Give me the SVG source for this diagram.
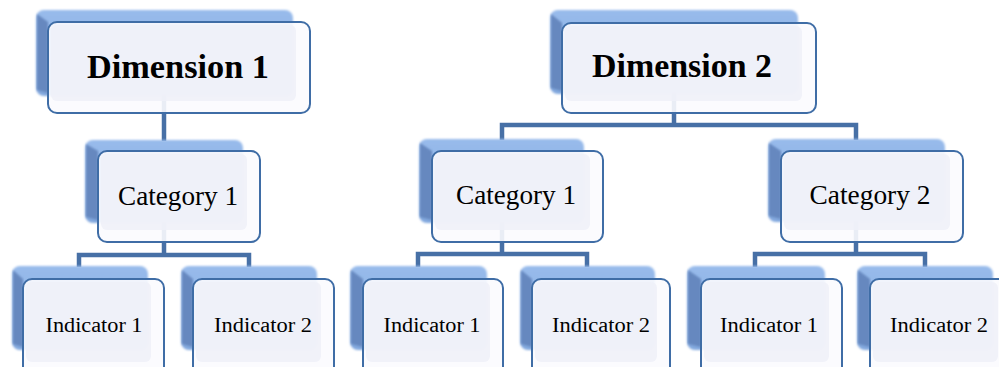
<svg xmlns="http://www.w3.org/2000/svg" width="999" height="367" viewBox="0 0 999 367">
<style>
.bg{fill:#ffffff}
.conn{fill:none;stroke:#4770A6;stroke-width:4.5;stroke-linejoin:miter}
.back{fill:url(#gBack);filter:url(#soft)}
.bevel{fill:#6688BF;filter:url(#soft)}
.front{fill:#FBFBFE;fill-opacity:0.9;stroke:#3F6DA6;stroke-width:2}
.inner{fill:#EEF0F8;fill-opacity:0.85}
.tdim{font-family:"Liberation Serif","DejaVu Serif",serif;font-weight:bold;font-size:33px;text-anchor:middle;fill:#000}
.tcat{font-family:"Liberation Serif","DejaVu Serif",serif;font-size:28px;text-anchor:middle;fill:#000}
.tind{font-family:"Liberation Serif","DejaVu Serif",serif;font-size:20px;text-anchor:middle;fill:#000}
</style>
<defs>
<linearGradient id="gBack" x1="0" y1="0" x2="0" y2="1">
<stop offset="0" stop-color="#98BBEB"/>
<stop offset="1" stop-color="#82A8DE"/>
</linearGradient>
<filter id="soft" x="-5%" y="-5%" width="110%" height="110%">
<feGaussianBlur stdDeviation="0.8"/>
</filter>
</defs>
<rect class="bg" x="0" y="0" width="999" height="367"/>
<g id="connectors">
<path class="conn" d="M164 94 V141"/>
<path class="conn" d="M164 222 V255 M79 267 V255 H249 V267"/>
<path class="conn" d="M674 92 V125 M502 140 V125 H856 V140"/>
<path class="conn" d="M502 222 V254 M418 267 V254 H587 V267"/>
<path class="conn" d="M856 221 V254 M755 267 V254 H925 V267"/>
</g>
<g id="dim1">
<rect class="back" x="36" y="10" width="257" height="86" rx="8"/>
<polygon class="bevel" points="37,14 48,22 48,93 37,90"/>
<rect class="front" x="48" y="22" width="262" height="91" rx="9"/>
<rect class="inner" x="51" y="25" width="245" height="76" rx="6"/>
<text class="tdim" x="178" y="78" textLength="182" lengthAdjust="spacingAndGlyphs">Dimension 1</text>
</g>
<g id="dim2">
<rect class="back" x="550" y="10" width="248" height="84" rx="8"/>
<polygon class="bevel" points="551,14 562,23 562,91 551,88"/>
<rect class="front" x="562" y="23" width="254" height="90" rx="9"/>
<rect class="inner" x="565" y="26" width="237" height="75" rx="6"/>
<text class="tdim" x="682" y="77" textLength="180" lengthAdjust="spacingAndGlyphs">Dimension 2</text>
</g>
<g id="cat1a">
<rect class="back" x="85" y="140" width="158" height="83" rx="8"/>
<polygon class="bevel" points="86,144 98,151 98,220 86,217"/>
<rect class="front" x="98" y="151" width="162" height="91" rx="9"/>
<rect class="inner" x="101" y="154" width="146" height="76" rx="6"/>
<text class="tcat" x="178" y="205" textLength="120" lengthAdjust="spacingAndGlyphs">Category 1</text>
</g>
<g id="cat1b">
<rect class="back" x="419" y="139" width="165" height="84" rx="8"/>
<polygon class="bevel" points="420,143 432,151 432,220 420,217"/>
<rect class="front" x="432" y="151" width="171" height="91" rx="9"/>
<rect class="inner" x="435" y="154" width="155" height="76" rx="6"/>
<text class="tcat" x="516" y="204" textLength="120" lengthAdjust="spacingAndGlyphs">Category 1</text>
</g>
<g id="cat2b">
<rect class="back" x="768" y="139" width="177" height="83" rx="8"/>
<polygon class="bevel" points="769,143 781,151 781,219 769,216"/>
<rect class="front" x="781" y="151" width="182" height="91" rx="9"/>
<rect class="inner" x="784" y="154" width="166" height="76" rx="6"/>
<text class="tcat" x="870" y="204" textLength="121" lengthAdjust="spacingAndGlyphs">Category 2</text>
</g>
<g id="ind1a">
<rect class="back" x="12" y="266" width="136" height="84" rx="8"/>
<polygon class="bevel" points="13,270 23,279 23,347 13,344"/>
<rect class="front" x="23" y="279" width="141" height="100" rx="9"/>
<rect class="inner" x="26" y="282" width="125" height="80" rx="6"/>
<text class="tind" x="94" y="332" textLength="97" lengthAdjust="spacingAndGlyphs">Indicator 1</text>
</g>
<g id="ind2a">
<rect class="back" x="181" y="266" width="136" height="84" rx="8"/>
<polygon class="bevel" points="182,270 193,279 193,347 182,344"/>
<rect class="front" x="193" y="279" width="141" height="100" rx="9"/>
<rect class="inner" x="196" y="282" width="125" height="80" rx="6"/>
<text class="tind" x="263" y="332" textLength="98" lengthAdjust="spacingAndGlyphs">Indicator 2</text>
</g>
<g id="ind1b">
<rect class="back" x="350" y="266" width="137" height="84" rx="8"/>
<polygon class="bevel" points="351,270 363,279 363,347 351,344"/>
<rect class="front" x="363" y="279" width="140" height="100" rx="9"/>
<rect class="inner" x="366" y="282" width="124" height="80" rx="6"/>
<text class="tind" x="432" y="332" textLength="97" lengthAdjust="spacingAndGlyphs">Indicator 1</text>
</g>
<g id="ind2b">
<rect class="back" x="520" y="266" width="135" height="84" rx="8"/>
<polygon class="bevel" points="521,270 532,279 532,347 521,344"/>
<rect class="front" x="532" y="279" width="138" height="100" rx="9"/>
<rect class="inner" x="535" y="282" width="122" height="80" rx="6"/>
<text class="tind" x="601" y="332" textLength="98" lengthAdjust="spacingAndGlyphs">Indicator 2</text>
</g>
<g id="ind1c">
<rect class="back" x="687" y="266" width="138" height="84" rx="8"/>
<polygon class="bevel" points="688,270 701,279 701,347 688,344"/>
<rect class="front" x="701" y="279" width="141" height="100" rx="9"/>
<rect class="inner" x="704" y="282" width="125" height="80" rx="6"/>
<text class="tind" x="769" y="332" textLength="98" lengthAdjust="spacingAndGlyphs">Indicator 1</text>
</g>
<g id="ind2c">
<rect class="back" x="857" y="266" width="136" height="84" rx="8"/>
<polygon class="bevel" points="858,270 870,279 870,347 858,344"/>
<rect class="front" x="870" y="279" width="141" height="100" rx="9"/>
<rect class="inner" x="873" y="282" width="125" height="80" rx="6"/>
<text class="tind" x="939" y="332" textLength="98" lengthAdjust="spacingAndGlyphs">Indicator 2</text>
</g>
</svg>
